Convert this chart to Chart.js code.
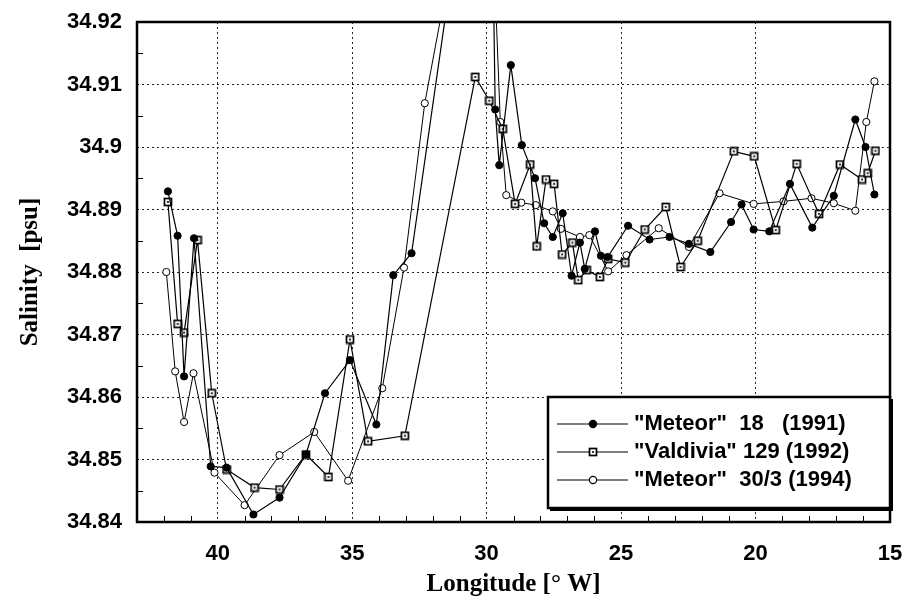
<!DOCTYPE html>
<html>
<head>
<meta charset="utf-8">
<script src="https://cdn.jsdelivr.net/npm/chart.js"></script>
<style>
  html, body { margin: 0; padding: 0; background: #fff; }
  #wrap { width: 906px; height: 606px; }
</style>
</head>
<body>
<div id="wrap"><canvas id="salChart" width="906" height="606"></canvas></div>
<script>
// longitude [°W] and salinity [psu] per cruise
const lonMeteor18 = [41.85, 41.49, 41.25, 40.88, 40.26, 39.67, 38.67, 37.70, 36.72, 36.01, 35.08, 34.10, 33.47, 32.79,
  29.90, 29.68, 29.53, 29.10, 28.69, 28.20, 27.86, 27.54, 27.17, 26.84, 26.53, 26.35, 25.97, 25.75, 25.50,
  24.74, 23.94, 23.20, 22.48, 21.68, 20.91, 20.52, 20.07, 19.49, 18.72, 17.89, 17.09, 16.29, 15.91, 15.58];
const salMeteor18 = [34.8929, 34.8858, 34.8633, 34.8854, 34.8489, 34.8487, 34.8412, 34.8439, 34.8508, 34.8606, 34.8659, 34.8556, 34.8795, 34.8830,
  34.9700, 34.9060, 34.8971, 34.9131, 34.9003, 34.8950, 34.8878, 34.8856, 34.8894, 34.8794, 34.8847, 34.8805, 34.8865, 34.8826, 34.8824,
  34.8874, 34.8852, 34.8856, 34.8845, 34.8832, 34.8880, 34.8908, 34.8868, 34.8865, 34.8941, 34.8871, 34.8922, 34.9044, 34.9000, 34.8924];

const lonValdivia = [41.85, 41.49, 41.25, 40.75, 40.22, 39.67, 38.63, 37.70, 36.72, 35.88, 35.08, 34.41, 33.04,
  30.42, 29.90, 29.40, 28.94, 28.38, 28.14, 27.79, 27.49, 27.19, 26.81, 26.59, 26.28, 25.79, 25.48,
  24.84, 24.12, 23.34, 22.79, 22.15, 20.81, 20.05, 19.25, 18.47, 17.64, 16.86, 16.04, 15.83, 15.54];
const salValdivia = [34.8912, 34.8717, 34.8703, 34.8851, 34.8606, 34.8484, 34.8455, 34.8452, 34.8508, 34.8472, 34.8692, 34.8529, 34.8538,
  34.9112, 34.9074, 34.9029, 34.8909, 34.8972, 34.8841, 34.8948, 34.8941, 34.8828, 34.8847, 34.8787, 34.8803, 34.8792, 34.8821,
  34.8815, 34.8868, 34.8904, 34.8808, 34.8850, 34.8993, 34.8985, 34.8867, 34.8973, 34.8893, 34.8972, 34.8948, 34.8958, 34.8994];

const lonMeteor30 = [41.91, 41.58, 41.25, 40.90, 40.12, 39.00, 37.70, 36.41, 35.15, 33.88, 33.07, 32.30,
  30.00, 29.49, 29.27, 28.71, 28.17, 27.54, 27.24, 26.53, 26.18, 25.48,
  24.80, 23.60, 22.48, 21.34, 20.07, 18.96, 17.92, 17.09, 16.29, 15.88, 15.58];
const salMeteor30 = [34.8800, 34.8641, 34.8560, 34.8638, 34.8479, 34.8427, 34.8507, 34.8544, 34.8466, 34.8614, 34.8807, 34.9070,
  34.9600, 34.9040, 34.8923, 34.8911, 34.8907, 34.8897, 34.8869, 34.8856, 34.8859, 34.8801,
  34.8827, 34.8870, 34.8840, 34.8926, 34.8909, 34.8913, 34.8918, 34.8910, 34.8898, 34.9040, 34.9105];

const seriesLabels = ['"Meteor"  18   (1991)', '"Valdivia" 129 (1992)', '"Meteor"  30/3 (1994)'];

// axis ticks
const xTicks = [40, 35, 30, 25, 20, 15];
const xMinor = [16, 17, 18, 19, 21, 22, 23, 24, 26, 27, 28, 29, 31, 32, 33, 34, 36, 37, 38, 39, 41, 42];
const yTicks = [34.84, 34.85, 34.86, 34.87, 34.88, 34.89, 34.90, 34.91, 34.92];
const yMinor = [34.845, 34.855, 34.865, 34.875, 34.885, 34.895, 34.905, 34.915];

const toPoints = (xs, ys) => xs.map((x, i) => ({ x: x, y: ys[i] }));

// square marker with a dot in the middle
function squareMarker() {
  const c = document.createElement('canvas');
  c.width = 10; c.height = 10;
  const g = c.getContext('2d');
  g.fillStyle = '#fff';
  g.fillRect(1, 1, 8, 8);
  g.strokeStyle = '#000';
  g.lineWidth = 1.7;
  g.strokeRect(1.5, 1.5, 7, 7);
  g.fillStyle = '#333';
  g.fillRect(4, 4, 2, 2);
  return c;
}
const sqMark = squareMarker();

const tickFont = { family: '"Liberation Sans", Arial, sans-serif', size: 22, weight: 'bold' };
const titleFont = { family: '"Liberation Serif", "Times New Roman", serif', size: 25, weight: 'bold' };

// frame, inner minor ticks and the boxed legend
const framePlugin = {
  id: 'frame',
  afterDraw(chart) {
    const { ctx, chartArea: a, scales } = chart;
    ctx.save();
    ctx.strokeStyle = '#000';
    ctx.lineWidth = 1;
    xMinor.forEach(v => {
      const x = Math.round(scales.x.getPixelForValue(v)) + 0.5;
      ctx.beginPath();
      ctx.moveTo(x, a.bottom);
      ctx.lineTo(x, a.bottom - 6);
      ctx.stroke();
    });
    yMinor.forEach(v => {
      const y = Math.round(scales.y.getPixelForValue(v)) + 0.5;
      ctx.beginPath();
      ctx.moveTo(a.left, y);
      ctx.lineTo(a.left + 6, y);
      ctx.stroke();
    });
    ctx.lineWidth = 2.5;
    ctx.strokeRect(a.left, a.top, a.right - a.left, a.bottom - a.top);

    // legend box
    const bx = 548, by = 397, bw = a.right - 548, bh = 111;
    ctx.fillStyle = '#fff';
    ctx.fillRect(bx, by, bw, bh);
    ctx.lineWidth = 2.5;
    ctx.strokeRect(bx, by, bw, bh);
    ctx.lineWidth = 2;
    ctx.beginPath();
    ctx.moveTo(bx + 2, by + bh + 2);
    ctx.lineTo(bx + bw + 2, by + bh + 2);
    ctx.lineTo(bx + bw + 2, by + 2);
    ctx.stroke();

    const rows = [424, 452, 480];
    chart.data.datasets.forEach((ds, i) => {
      const y = rows[i];
      ctx.strokeStyle = '#000';
      ctx.lineWidth = 1.2;
      ctx.beginPath();
      ctx.moveTo(557, y);
      ctx.lineTo(628, y);
      ctx.stroke();
      const mx = 593;
      if (i === 1) {
        ctx.drawImage(sqMark, mx - 5, y - 5);
      } else {
        ctx.beginPath();
        ctx.arc(mx, y, 3.6, 0, Math.PI * 2);
        ctx.fillStyle = i === 0 ? '#000' : '#fff';
        ctx.fill();
        ctx.stroke();
      }
      ctx.fillStyle = '#000';
      ctx.font = 'bold 22px "Liberation Sans", Arial, sans-serif';
      ctx.textBaseline = 'middle';
      ctx.textAlign = 'left';
      ctx.fillText(ds.label, 634, y);
    });
    ctx.restore();
  }
};

new Chart(document.getElementById('salChart').getContext('2d'), {
  type: 'line',
  data: {
    datasets: [
      {
        label: seriesLabels[0],
        data: toPoints(lonMeteor18, salMeteor18),
        borderColor: '#000', borderWidth: 1.2,
        pointStyle: 'circle', pointRadius: 3.6,
        pointBackgroundColor: '#000', pointBorderColor: '#000', pointBorderWidth: 1,
        tension: 0
      },
      {
        label: seriesLabels[1],
        data: toPoints(lonValdivia, salValdivia),
        borderColor: '#000', borderWidth: 1.2,
        pointStyle: sqMark,
        tension: 0
      },
      {
        label: seriesLabels[2],
        data: toPoints(lonMeteor30, salMeteor30),
        borderColor: '#000', borderWidth: 1,
        pointStyle: 'circle', pointRadius: 3.6,
        pointBackgroundColor: '#fff', pointBorderColor: '#000', pointBorderWidth: 1,
        tension: 0
      }
    ]
  },
  options: {
    responsive: false,
    animation: false,
    devicePixelRatio: 1,
    layout: { padding: { top: 22, right: 16, left: 0, bottom: 0 } },
    plugins: {
      legend: { display: false },
      tooltip: { enabled: false }
    },
    scales: {
      x: {
        type: 'linear',
        reverse: true,
        min: 15,
        max: 43,
        afterBuildTicks: s => { s.ticks = xTicks.map(v => ({ value: v })); },
        afterFit: s => {
          s.height = 84;
          s.paddingLeft = 0; s.paddingRight = 0;
        },
        grid: { color: '#222', lineWidth: 1, drawTicks: false },
        border: { display: false, dash: [2, 3] },
        ticks: { padding: 19, color: '#000', font: tickFont, maxRotation: 0 },
        title: {
          display: true, text: 'Longitude [° W]', color: '#000', font: titleFont,
          padding: { top: 0, bottom: 6 }
        }
      },
      y: {
        type: 'linear',
        min: 34.84,
        max: 34.92,
        afterBuildTicks: s => { s.ticks = yTicks.map(v => ({ value: v })); },
        afterFit: s => {
          s.width = 137;
          s.paddingTop = 0; s.paddingBottom = 0;
        },
        grid: { color: '#222', lineWidth: 1, drawTicks: false },
        border: { display: false, dash: [2, 3] },
        ticks: {
          padding: 15, color: '#000', font: tickFont,
          callback: v => String(+Number(v).toFixed(2))
        },
        title: {
          display: true, text: 'Salinity  [psu]', color: '#000', font: titleFont,
          padding: { top: 16, bottom: 0 }
        }
      }
    }
  },
  plugins: [framePlugin]
});
</script>
</body>
</html>
